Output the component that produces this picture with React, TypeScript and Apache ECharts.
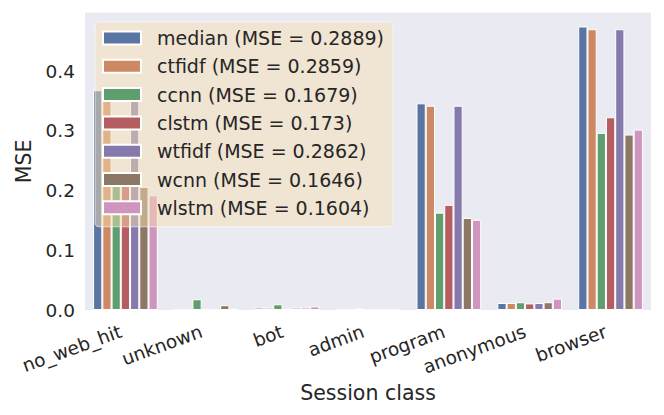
import React, { useEffect, useRef } from "react";
import * as echarts from "echarts";

const categories = ["no_web_hit", "unknown", "bot", "admin", "program", "anonymous", "browser"];
const seriesNames = [
  "median (MSE = 0.2889)",
  "ctfidf (MSE = 0.2859)",
  "ccnn (MSE = 0.1679)",
  "clstm (MSE = 0.173)",
  "wtfidf (MSE = 0.2862)",
  "wcnn (MSE = 0.1646)",
  "wlstm (MSE = 0.1604)",
];
const median = [0.368, 0.0, 0.004, 0.0, 0.346, 0.0117, 0.4746];
const ctfidf = [0.36, 0.0, 0.004, 0.0, 0.342, 0.0117, 0.47];
const ccnn = [0.215, 0.018, 0.0095, 0.003, 0.163, 0.013, 0.2965];
const clstm = [0.22, 0.002, 0.002, 0.0, 0.176, 0.011, 0.3227];
const wtfidf = [0.36, 0.0, 0.004, 0.0, 0.342, 0.0117, 0.47];
const wcnn = [0.206, 0.008, 0.004, 0.0, 0.154, 0.013, 0.2937];
const wlstm = [0.192, 0.002, 0.006, 0.0, 0.151, 0.019, 0.302];
const seriesValues = [median, ctfidf, ccnn, clstm, wtfidf, wcnn, wlstm];
const colors = ["#5975a4", "#cc8963", "#5f9e6e", "#b55d60", "#857aab", "#8d7866", "#d095bf"];

const FONT = "DejaVu Sans";
const TEXT = "#262626";

export default function App() {
  const ref = useRef<HTMLDivElement>(null);
  useEffect(() => {
    document.body.style.margin = "0";
    const chart = echarts.init(ref.current!, null, { renderer: "svg" });
    chart.setOption({
      animation: false,
      backgroundColor: "#ffffff",
      color: colors,
      textStyle: { fontFamily: FONT },
      grid: {
        left: 85,
        right: 13,
        top: 12.7,
        bottom: 105,
        show: true,
        backgroundColor: "#EAEAF2",
        borderWidth: 0,
        containLabel: false,
      },
      legend: {
        orient: "vertical",
        left: 95,
        top: 22,
        padding: [5, 9, 8, 7],
        itemWidth: 38,
        itemHeight: 13,
        itemGap: 6.3,
        icon: "rect",
        selectedMode: false,
        backgroundColor: "rgba(245,222,179,0.5)",
        borderColor: "rgba(255,255,255,0.6)",
        borderWidth: 1,
        borderRadius: 4,
        textStyle: {
          fontFamily: FONT,
          fontSize: 19,
          color: TEXT,
          lineHeight: 22,
          padding: [0, 0, 0, 11],
        },
        data: seriesNames,
      },
      xAxis: {
        type: "category",
        data: categories,
        name: "Session class",
        nameLocation: "middle",
        nameGap: 71,
        nameTextStyle: { fontFamily: FONT, fontSize: 20.5, color: TEXT },
        axisLine: { show: false },
        axisTick: { show: false },
        splitLine: { show: false },
        axisLabel: {
          interval: 0,
          rotate: 20,
          margin: 19,
          padding: [0, 5, 0, 0],
          fontFamily: FONT,
          fontSize: 18.5,
          color: TEXT,
        },
      },
      yAxis: {
        type: "value",
        min: 0,
        max: 0.4977,
        interval: 0.1,
        name: "MSE",
        nameLocation: "middle",
        nameGap: 48,
        nameRotate: 90,
        nameTextStyle: { fontFamily: FONT, fontSize: 20.5, color: TEXT },
        axisLine: { show: false },
        axisTick: { show: false },
        splitLine: { show: false },
        axisLabel: {
          showMaxLabel: false,
          margin: 10,
          fontFamily: FONT,
          fontSize: 18.5,
          color: TEXT,
          formatter: (v: number) => v.toFixed(1),
        },
      },
      series: seriesValues.map((vals, i) => ({
        name: seriesNames[i],
        type: "bar",
        data: vals,
        barGap: "0%",
        barCategoryGap: "20%",
        itemStyle: { color: colors[i], borderColor: "#ffffff", borderWidth: 1 },
        emphasis: { disabled: true },
      })),
    });
    return () => chart.dispose();
  }, []);
  return <div ref={ref} style={{ width: 664, height: 415 }} />;
}
